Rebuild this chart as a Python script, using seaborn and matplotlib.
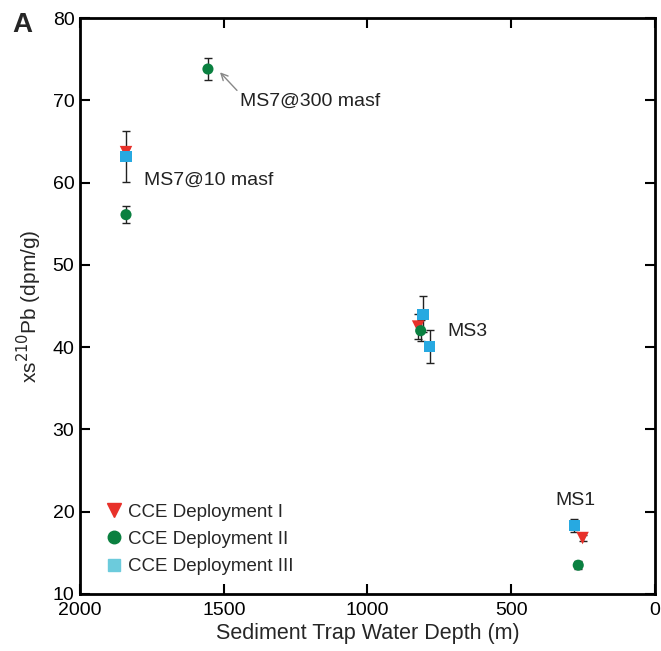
import pandas as pd
import matplotlib.pyplot as plt
import seaborn as sns
from matplotlib.lines import Line2D

# CCE sediment trap xs210Pb data
dep1_depth = [1840, 824, 252]
dep1_pb = [63.7, 42.5, 16.8]
dep1_err = [0.5, 1.5, 0.4]

dep2_depth = [1555, 1840, 815, 267]
dep2_pb = [73.8, 56.1, 42.0, 13.5]
dep2_err = [1.35, 1.0, 1.3, 0.5]

dep3_depth = [1840, 807, 783, 281]
dep3_pb = [63.2, 44.0, 40.05, 18.3]
dep3_err = [3.1, 2.2, 2.0, 0.8]

red = '#e8312a'
green = '#0a8040'
blue = '#27a9e1'
legend_blue = '#6ccbdc'

sns.set_theme(style='ticks')
plt.rcParams['font.family'] = ['Liberation Sans', 'DejaVu Sans']

fig = plt.figure(figsize=(6.61, 6.51), dpi=100)
ax = fig.add_axes([80 / 661, 1 - 594 / 651, 575 / 661, 576 / 651])

groups = [
    ('CCE Deployment I', dep1_depth, dep1_pb, dep1_err, 'v', red, 9),
    ('CCE Deployment II', dep2_depth, dep2_pb, dep2_err, 'o', green, 8),
    ('CCE Deployment III', dep3_depth, dep3_pb, dep3_err, 's', blue, 8),
]
for name, d, p, e, m, c, s in groups:
    ax.errorbar(d, p, yerr=e, fmt='none', ecolor='#222222', elinewidth=1,
                capsize=3, capthick=1, zorder=2)
    df = pd.DataFrame({'depth': d, 'pb': p})
    sns.scatterplot(data=df, x='depth', y='pb', marker=m, color=c, s=s ** 2,
                    edgecolor='none', ax=ax, legend=False, zorder=3)

ax.set_xlim(2000, 0)
ax.set_ylim(10, 80)
ax.set_xticks([2000, 1500, 1000, 500, 0])
ax.set_yticks(range(10, 81, 10))
ax.tick_params(direction='in', top=True, right=True, length=7, width=1.5,
               labelsize=14, colors='black')
ax.tick_params(axis='x', pad=6)
ax.tick_params(axis='y', pad=4)
for sp in ax.spines.values():
    sp.set_linewidth(2)
    sp.set_color('black')

ax.set_xlabel('Sediment Trap Water Depth (m)', fontsize=15.5, labelpad=3)
ax.set_ylabel('xs$^{210}$Pb (dpm/g)', fontsize=15, labelpad=6)

ax.text(1777, 60.3, 'MS7@10 masf', fontsize=14, va='center', color='#222222')
ax.text(723, 41.9, 'MS3', fontsize=14, va='center', color='#222222')
ax.text(348, 21.4, 'MS1', fontsize=14, va='center', color='#222222')
ax.text(1443, 69.9, 'MS7@300 masf', fontsize=14, va='center', color='#222222')
ax.annotate('', xy=(1513, 73.4), xytext=(1454, 71.2),
            arrowprops=dict(arrowstyle='->', color='#888888', lw=1,
                            shrinkA=0, shrinkB=0))

handles = [
    Line2D([], [], marker='v', color=red, linestyle='none', markersize=10),
    Line2D([], [], marker='o', color=green, linestyle='none', markersize=9),
    Line2D([], [], marker='s', color=legend_blue, linestyle='none', markersize=8),
]
ax.legend(handles, [g[0] for g in groups], loc='lower left',
          bbox_to_anchor=(0.01, 0.003), frameon=False, fontsize=13.5,
          handletextpad=0.15, labelspacing=0.55, handlelength=1.2)

fig.text(12 / 661, 1 - 32 / 651, 'A', fontsize=20, fontweight='bold')

fig.savefig('out.png', dpi=100)
